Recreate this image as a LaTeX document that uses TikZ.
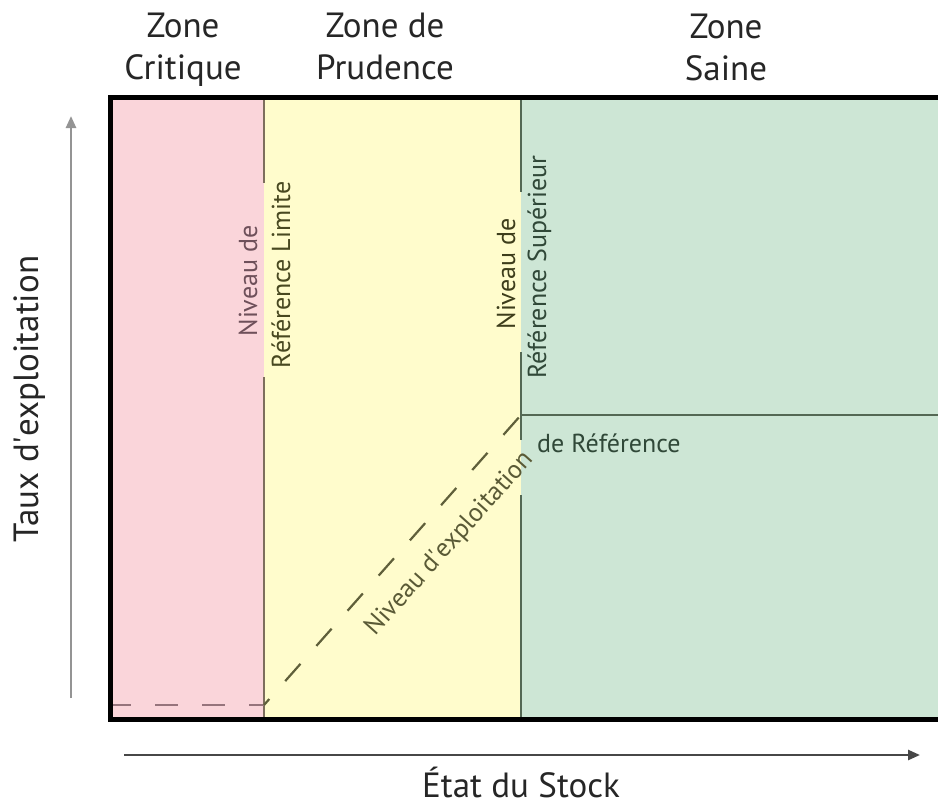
\documentclass[tikz,border=0pt]{standalone}
\usepackage{fontspec}
\setmainfont{PT Sans}
\usetikzlibrary{arrows.meta}
\definecolor{pinkz}{RGB}{250,213,218}
\definecolor{yelz}{RGB}{255,252,204}
\definecolor{grnz}{RGB}{205,230,213}
\definecolor{limline}{RGB}{125,110,92}
\definecolor{supline}{RGB}{84,104,84}
\definecolor{pdash}{RGB}{150,116,124}
\definecolor{ddash}{RGB}{95,95,58}
\definecolor{txtmauve}{RGB}{110,80,90}
\definecolor{txtolive}{RGB}{72,72,32}
\definecolor{txtgreen}{RGB}{48,72,56}
\definecolor{txtdark}{RGB}{38,38,38}
\begin{document}
\begin{tikzpicture}[x=1pt,y=-1pt,
  big/.style={font=\fontsize{35}{42}\selectfont, text=txtdark, inner sep=0pt, align=center},
  small/.style={font=\fontsize{26}{31}\selectfont, inner sep=0pt},
  bound/.style={line width=2.2pt},
  dashln/.style={line width=2.2pt, dash pattern=on 23pt off 24pt},
  axisarrow/.style={line width=2.5pt, -{Triangle[length=12pt,width=10pt]}},
]
\useasboundingbox (0,0) rectangle (938,807);
\fill[white] (0,0) rectangle (938,807);
% zones
\fill[pinkz] (110,97) rectangle (264,719);
\fill[yelz] (264,97) rectangle (521,719);
\fill[grnz] (521,97) rectangle (940,719);
% limit reference line
\coordinate (l1) at (264,97);
\coordinate (l2) at (264,183);
\coordinate (l3) at (264,377);
\coordinate (l4) at (264,719);
\draw[bound, limline] (l1) -- (l2) (l3) -- (l4);
% upper reference line
\coordinate (s1) at (521,97);
\coordinate (s2) at (521,192);
\coordinate (s3) at (521,352);
\coordinate (s4) at (521,440);
\coordinate (s5) at (521,495);
\coordinate (s6) at (521,719);
\coordinate (sk) at (521,415);
\coordinate (se) at (940,415);
\draw[bound, supline] (s1) -- (s2) (s3) -- (s4) (s5) -- (s6);
\draw[bound, supline] (sk) -- (se);
% exploitation level dashed
\coordinate (d0) at (108,705);
\coordinate (d1) at (264,705);
\draw[dashln, pdash] (d0) -- (d1);
\draw[dashln, ddash, dash phase=15pt] (d1) -- (sk);
% frame
\draw[line width=5pt, line join=miter, black] (940,97.5) -- (110.5,97.5) -- (110.5,719) -- (940,719);
% axes
\coordinate (ya) at (71,698);
\coordinate (yb) at (71,116);
\coordinate (xa) at (124,755);
\coordinate (xb) at (920,755);
\draw[axisarrow, black!42] (ya) -- (yb);
\draw[axisarrow, black!72] (xa) -- (xb);
% top labels
\node[big, anchor=base] (zc) at (183,79) {Zone\\Critique};
\node[big, anchor=base] (zp) at (385,79) {Zone de\\Prudence};
\node[big, anchor=base] (zs) at (726,80) {Zone\\Saine};
% axis labels
\node[big, rotate=90, anchor=base] (ty) at (38,399) {Taux d\textquotesingle exploitation};
\node[big, anchor=base] (tx) at (521,797) {État du Stock};
% reference labels
\node[small, rotate=90, anchor=base, text=txtmauve] (nl) at (257,281) {Niveau de};
\node[small, rotate=90, anchor=base, text=txtolive] (rl) at (290,275) {Référence Limite};
\node[small, rotate=90, anchor=base, text=txtolive!85!black] (ns) at (515,274) {Niveau de};
\node[small, rotate=90, anchor=base, text=txtgreen] (rs) at (546,267) {Référence Supérieur};
\node[small, anchor=base west, text=txtgreen] (dr) at (537,452) {de Référence};
\node[small, rotate=48, text=txtolive!90!white] (ne) at (450,544) {Niveau d\textquotesingle exploitation};
\end{tikzpicture}
\end{document}
